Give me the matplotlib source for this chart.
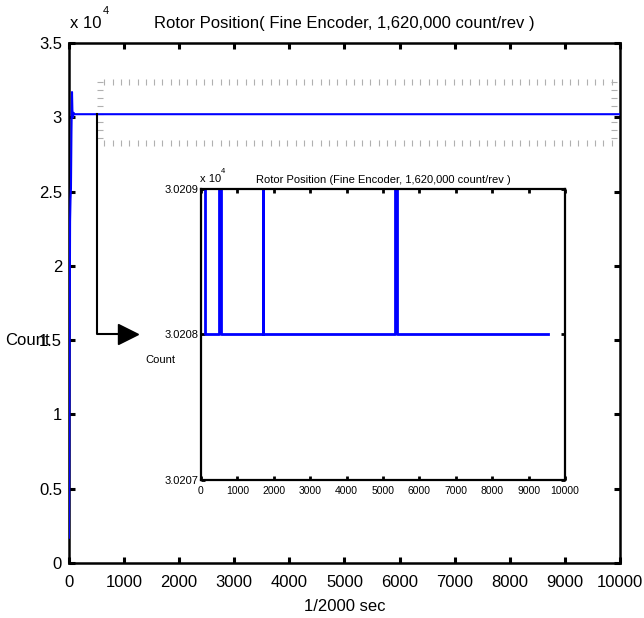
import matplotlib
matplotlib.use("Agg")
import matplotlib.pyplot as plt
import numpy as np

plt.rcParams['font.family'] = ['Liberation Sans', 'DejaVu Sans']

# main trace, counts in units of 1e4, time in 1/2000 s samples
t_main = [0, 5, 12, 20, 28, 36, 45, 55, 62, 70, 85, 100, 10000]
pos_main = [0.17, 0.5, 1.4, 2.3, 2.45, 2.52, 2.9, 3.17, 3.05, 3.0, 3.03, 3.0208, 3.0208]

# zoomed trace (units of 1e4), up/down pairs of 1-count flicker
t_zoom = [0, 110, 110, 495, 495, 545, 545, 1700, 1700, 1700, 5330, 5330, 5375, 5375, 9530]
pos_zoom = [3.02092, 3.02092, 3.0208, 3.0208, 3.0209, 3.0209, 3.0208, 3.0208, 3.0209,
            3.0208, 3.0208, 3.0209, 3.0209, 3.0208, 3.0208]

main_xticks = list(range(0, 10001, 1000))
main_yticks = [0, 0.5, 1, 1.5, 2, 2.5, 3, 3.5]
zoom_yticks = [3.0207, 3.0208, 3.0209]

fig = plt.figure(figsize=(6.44, 6.18), dpi=100)
ax = fig.add_axes([0.1071, 0.089, 0.8556, 0.8414])

ax.plot(t_main, pos_main, color='#0000ff', lw=1.5, zorder=3)
ax.set_xlim(0, 10000)
ax.set_ylim(0, 3.5)
ax.set_xticks(main_xticks)
ax.set_yticks(main_yticks)
ax.set_yticklabels(['0', '0.5', '1', '1.5', '2', '2.5', '3', '3.5'])
ax.tick_params(direction='in', length=4, width=2.2, labelsize=12, top=True, right=True)
ax.tick_params(axis='x', pad=9)
ax.tick_params(axis='y', pad=5)
for s in ax.spines.values():
    s.set_linewidth(1.8)
ax.set_title('Rotor Position( Fine Encoder, 1,620,000 count/rev )', fontsize=12, pad=11)
ax.set_xlabel('1/2000 sec', fontsize=12, labelpad=6)
fig.text(0.008, 0.449, 'Count', fontsize=12, ha='left', va='center')
fig.text(0.109, 0.962, 'x 10', fontsize=12, ha='left', va='center')
fig.text(0.160, 0.983, '4', fontsize=8, ha='left', va='center')

# dotted zoom window marker
bx0, bx1, by0, by1 = 530, 9960, 2.83, 3.24
hx = np.arange(bx0 + 110, bx1, 151)
vy = np.arange(by0 + 0.03, by1, 0.054)
ax.plot(hx, [by1] * len(hx), ls='none', marker='|', ms=4, mew=0.8, color='#b0b0b0')
ax.plot(hx, [by0] * len(hx), ls='none', marker='|', ms=4, mew=0.8, color='#b0b0b0')
ax.plot([bx0 + 40] * len(vy), vy, ls='none', marker='_', ms=4, mew=0.8, color='#b0b0b0')
ax.plot([bx1 - 60] * len(vy), vy, ls='none', marker='_', ms=4, mew=0.8, color='#b0b0b0')

# connector arrow to the inset
ax.plot([510, 510, 880], [3.02, 1.54, 1.54], color='black', lw=1.5, zorder=4)
ax.plot([1064], [1.54], marker='>', ms=15, color='black', ls='none', zorder=4)

# inset
ins = fig.add_axes([0.3121, 0.2233, 0.5652, 0.4709])
ins.plot(t_zoom, pos_zoom, color='#0000ff', lw=2)
ins.set_xlim(0, 10000)
ins.set_ylim(3.0207, 3.0209)
ins.set_xticks(main_xticks)
ins.set_yticks(zoom_yticks)
ins.set_yticklabels(['3.0207', '3.0208', '3.0209'])
ins.tick_params(direction='in', length=3, width=2, labelsize=8, top=True, right=True)
ins.tick_params(axis='x', pad=4, labelsize=7.5)
ins.tick_params(axis='y', pad=2)
for s in ins.spines.values():
    s.set_linewidth(1.6)
ins.set_title('Rotor Position (Fine Encoder, 1,620,000 count/rev )', fontsize=8, pad=4)
fig.text(0.225, 0.417, 'Count', fontsize=8, ha='left', va='center')
fig.text(0.311, 0.711, 'x 10', fontsize=8, ha='left', va='center')
fig.text(0.343, 0.723, '4', fontsize=5.5, ha='left', va='center')

fig.savefig('out.png', dpi=100)
